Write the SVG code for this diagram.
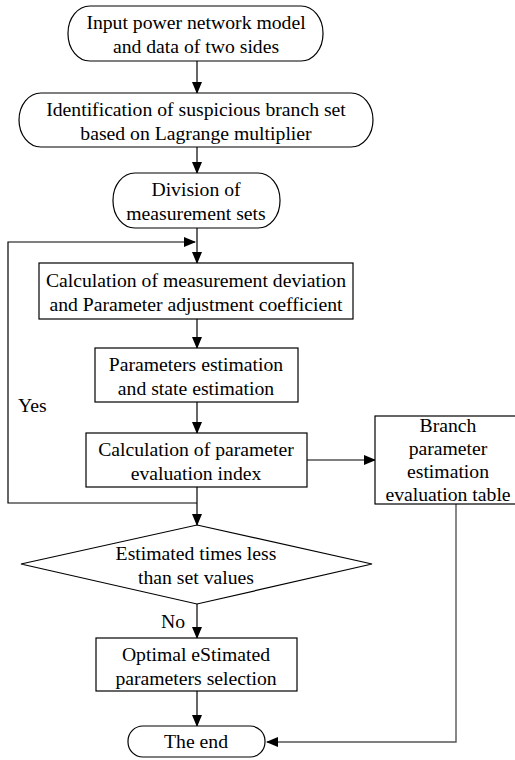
<svg xmlns="http://www.w3.org/2000/svg" width="515" height="760" viewBox="0 0 515 760">
<defs>
<marker id="ah" markerWidth="12" markerHeight="10" refX="11" refY="5" orient="auto" markerUnits="userSpaceOnUse">
<path d="M0,0 L12,5 L0,10 Z" fill="#000"/>
</marker>
<style>
.n{fill:#fff;stroke:#000;stroke-width:1.2}
.t{font-family:"Liberation Serif","Times New Roman",serif;font-size:19.7px;fill:#000;text-anchor:middle}
.l{font-family:"Liberation Serif","Times New Roman",serif;font-size:19.7px;fill:#000}
.c{fill:none;stroke:#000;stroke-width:1.2}
.g{fill:none;stroke:#555;stroke-width:1.4}
</style>
</defs>
<rect width="515" height="760" fill="#fff"/>
<g id="connectors">
<line class="c" x1="197" y1="61" x2="197" y2="93" marker-end="url(#ah)"/>
<line class="c" x1="197" y1="147" x2="197" y2="173" marker-end="url(#ah)"/>
<line class="c" x1="197" y1="228" x2="197" y2="263" marker-end="url(#ah)"/>
<line class="c" x1="197" y1="319" x2="197" y2="348" marker-end="url(#ah)"/>
<line class="c" x1="197" y1="402" x2="197" y2="433" marker-end="url(#ah)"/>
<line class="c" x1="307" y1="460" x2="375" y2="460" marker-end="url(#ah)"/>
<line class="c" x1="197" y1="487" x2="197" y2="525" marker-end="url(#ah)"/>
<polyline class="c" points="197,503 8,503 8,242 195,242" marker-end="url(#ah)"/>
<line class="c" x1="197" y1="604" x2="197" y2="638" marker-end="url(#ah)"/>
<line class="c" x1="197" y1="691" x2="197" y2="726" marker-end="url(#ah)"/>
<polyline class="g" points="456,504 456,742 300,742"/>
<line class="c" x1="300" y1="742" x2="267" y2="742" marker-end="url(#ah)"/>
<text class="l" x="18" y="412">Yes</text>
<text class="l" x="161" y="628">No</text>
</g>
<g id="n1">
<rect class="n" x="68" y="6" width="255" height="55" rx="22" ry="27"/>
<text class="t" x="196" y="29">Input power network model</text>
<text class="t" x="196" y="53">and data of two sides</text>
</g>
<g id="n2">
<rect class="n" x="19" y="93" width="354" height="54" rx="22" ry="27"/>
<text class="t" x="196" y="116">Identification of suspicious branch set</text>
<text class="t" x="196" y="140">based on Lagrange multiplier</text>
</g>
<g id="n3">
<rect class="n" x="113" y="173" width="167" height="55" rx="22" ry="27"/>
<text class="t" x="196" y="196">Division of</text>
<text class="t" x="196" y="220">measurement sets</text>
</g>
<g id="n4">
<rect class="n" x="39" y="263" width="314" height="56"/>
<text class="t" x="196" y="287">Calculation of measurement deviation</text>
<text class="t" x="196" y="311">and Parameter adjustment coefficient</text>
</g>
<g id="n5">
<rect class="n" x="95" y="348" width="203" height="54"/>
<text class="t" x="196" y="371">Parameters estimation</text>
<text class="t" x="196" y="395">and state estimation</text>
</g>
<g id="n6">
<rect class="n" x="86" y="433" width="221" height="54"/>
<text class="t" x="196" y="456">Calculation of parameter</text>
<text class="t" x="196" y="480">evaluation index</text>
</g>
<g id="n7">
<rect class="n" x="375" y="416" width="145" height="88"/>
<text class="t" x="448" y="432">Branch</text>
<text class="t" x="448" y="455">parameter</text>
<text class="t" x="448" y="478">estimation</text>
<text class="t" x="448" y="501">evaluation table</text>
</g>
<g id="n8">
<polygon class="n" points="197,525 372,564 197,604 21,564"/>
<text class="t" x="196" y="560">Estimated times less</text>
<text class="t" x="196" y="584">than set values</text>
</g>
<g id="n9">
<rect class="n" x="96" y="638" width="201" height="53"/>
<text class="t" x="196" y="661">Optimal eStimated</text>
<text class="t" x="196" y="685">parameters selection</text>
</g>
<g id="n10">
<rect class="n" x="128" y="726" width="137" height="31" rx="15" ry="15"/>
<text class="t" x="196" y="748">The end</text>
</g>
</svg>
